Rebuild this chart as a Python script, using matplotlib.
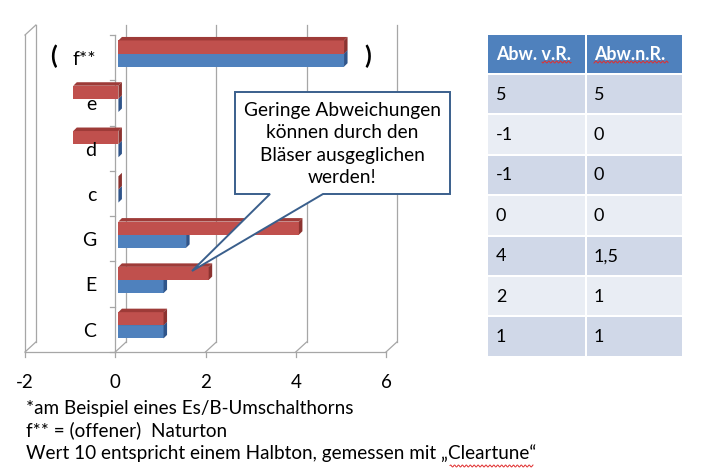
import matplotlib
matplotlib.use("Agg")
import matplotlib.pyplot as plt
import numpy as np
from matplotlib.patches import Polygon, Rectangle

# data (Abweichung vor / nach Reparatur), bottom -> top
categories = ["C", "E", "G", "c", "d", "e", "f**"]
abw_vr = [1, 2, 4, 0, -1, -1, 5]
abw_nr = [1, 1, 1.5, 0, 0, 0, 5]
col_labels = ["Abw. v.R.", "Abw.n.R."]
x_ticks = [-2, 0, 2, 4, 6]
callout_text = "Geringe Abweichungen\nkönnen durch den\nBläser ausgeglichen\nwerden!"
footer = ["*am Beispiel eines Es/B-Umschalthorns",
          "f** = (offener)  Naturton",
          "Wert 10 entspricht einem Halbton, gemessen mit \u201eCleartune\u201c"]

plt.rcParams["font.family"] = ["Lato", "DejaVu Sans"]
W, H = 702, 475
fig = plt.figure(figsize=(W / 100, H / 100), dpi=100)

RED, RED_TOP, RED_SIDE = "#C0504D", "#9E3B38", "#8C3330"
BLUE, BLUE_TOP, BLUE_SIDE = "#4F81BD", "#3F6CA0", "#30558A"
GRID = "#A6A6A6"

ax = fig.add_axes([25 / W, 1 - 352 / H, 361 / W, 317 / H])
ax.set_xlim(-2, 6)
ax.set_ylim(-0.5, 6.5)
for s in ax.spines.values():
    s.set_visible(False)
ax.set_yticks([])
ax.set_xticks(x_ticks)
ax.set_xticklabels([str(t) for t in x_ticks], fontsize=13.5)
ax.tick_params(axis="x", length=0, pad=16)

# 3d box: floor, left wall, back grid
dxg, dyg = 0.24, 0.22
top_front, top_back = 6.5, 6.5 + dyg
kw = dict(color=GRID, lw=0.9, clip_on=False, zorder=1)
ax.plot([-2, 6], [-0.5, -0.5], **kw)
for v in x_ticks:
    ax.plot([v, v], [-0.5, -0.5 - 0.11], **kw)
    ax.plot([v, v + dxg], [-0.5, -0.5 + dyg], **kw)
    ax.plot([v + dxg, v + dxg], [-0.5 + dyg, top_back], **kw)
ax.plot([-2, -2], [-0.5, top_front], **kw)
ax.plot([-2, -2 + dxg], [top_front, top_back], **kw)
# front category axis at 0
ax.plot([0, 0], [-0.5, top_front], **kw)
for b in np.arange(-0.5, 7.0, 1.0):
    ax.plot([-0.12, 0], [b, b], **kw)

# bars with a small 3d offset (they sit slightly behind the front plane)
y = np.arange(len(categories))
h = 0.29
dx, dy = 0.078, 0.077
depth0 = 0.07


def add_depth(bars, top, side):
    for r in bars:
        x0, w = r.get_x(), r.get_width()
        lo, hi = min(x0, x0 + w), max(x0, x0 + w)
        yb, yt = r.get_y(), r.get_y() + r.get_height()
        ax.add_patch(Polygon([(lo, yt), (hi, yt), (hi + dx, yt + dy), (lo + dx, yt + dy)],
                             closed=True, fc=top, ec="none", zorder=r.get_zorder()))
        ax.add_patch(Polygon([(hi, yb), (hi + dx, yb + dy), (hi + dx, yt + dy), (hi, yt)],
                             closed=True, fc=side, ec="none", zorder=r.get_zorder()))


b_nr = ax.barh(y - 0.055, abw_nr, left=depth0, height=h, color=BLUE, zorder=3)
add_depth(b_nr, BLUE_TOP, BLUE_SIDE)
b_vr = ax.barh(y + 0.235, abw_vr, left=depth0, height=h, color=RED, zorder=4)
add_depth(b_vr, RED_TOP, RED_SIDE)

for yi, lab in zip(y, categories):
    ax.text(-0.42, yi - 0.04, lab, ha="right", va="center", fontsize=14, zorder=5)
ax.text(-1.37, 6.04, "(", ha="center", va="center", fontsize=18, fontweight="bold", zorder=5)
ax.text(5.59, 6.04, ")", ha="center", va="center", fontsize=18, fontweight="bold", zorder=5)

# overlay in pixel coordinates for callout, table and notes
ov = fig.add_axes([0, 0, 1, 1], zorder=10)
ov.set_xlim(0, W)
ov.set_ylim(H, 0)
ov.axis("off")
ov.patch.set_alpha(0)


def squiggle(x0, x1, yy):
    xs = np.linspace(x0, x1, int((x1 - x0) * 2))
    ov.plot(xs, yy + 1.0 * np.sin(xs * 1.6), color="#E03030", lw=0.7)


bx0, bx1, by0, by1 = 235, 450, 92, 194
shape = [(bx0, by0), (bx1, by0), (bx1, by1), (323, by1), (192, 271), (270, by1), (bx0, by1)]
ov.add_patch(Polygon(shape, closed=True, fc="white", ec="#3A5F8C", lw=1.4))
ov.text((bx0 + bx1) / 2, (by0 + by1) / 2 + 1, callout_text, ha="center", va="center",
        fontsize=13.8, linespacing=1.38)

# table
tx0, tmid, tx1 = 488, 586, 682
ty = [35, 74] + [74 + 40.4 * (k + 1) for k in range(7)]
ov.add_patch(Rectangle((tx0, ty[0]), tmid - tx0 - 1, ty[1] - ty[0] - 1, fc="#4F81BD", ec="none"))
ov.add_patch(Rectangle((tmid + 1, ty[0]), tx1 - tmid - 1, ty[1] - ty[0] - 1, fc="#4F81BD", ec="none"))
for xs, lab in zip([496, 594], col_labels):
    ov.text(xs, (ty[0] + ty[1]) / 2, lab, ha="left", va="center", fontsize=12.9,
            fontweight="bold", color="white")
squiggle(542, 571, 62)
squiggle(594, 668, 62)
rows = list(zip(abw_vr, abw_nr))[::-1]
fmt = lambda v: (f"{v:g}").replace(".", ",")
for k, (a, b) in enumerate(rows):
    fc = "#D0D8E8" if k % 2 == 0 else "#E9EDF4"
    r0, r1 = ty[k + 1] + 1, ty[k + 2]
    ov.add_patch(Rectangle((tx0, r0), tmid - tx0 - 1, r1 - r0 - 1, fc=fc, ec="none"))
    ov.add_patch(Rectangle((tmid + 1, r0), tx1 - tmid - 1, r1 - r0 - 1, fc=fc, ec="none"))
    ov.text(496, (r0 + r1) / 2, fmt(a), ha="left", va="center", fontsize=13)
    ov.text(594, (r0 + r1) / 2, fmt(b), ha="left", va="center", fontsize=13)

for k, line in enumerate(footer):
    ov.text(26, 414 + 22.5 * k, line, ha="left", va="baseline", fontsize=13.6)
squiggle(450, 533, 466)

fig.savefig("out.png", dpi=100)
